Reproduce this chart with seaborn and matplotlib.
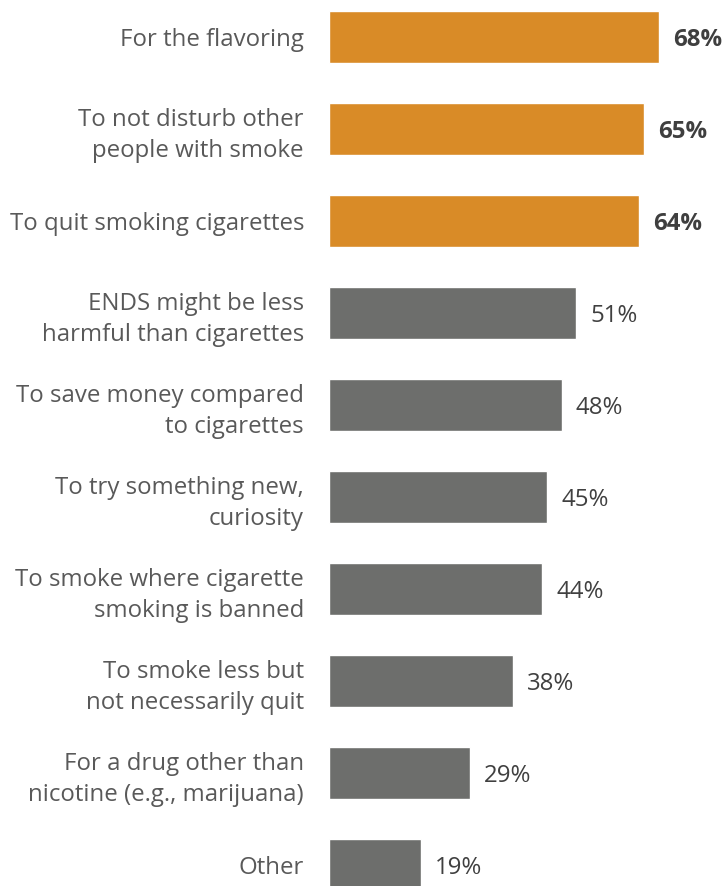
import matplotlib
matplotlib.use("Agg")
import matplotlib.pyplot as plt
import seaborn as sns
import pandas as pd

categories = [
    "For the flavoring",
    "To not disturb other\npeople with smoke",
    "To quit smoking cigarettes",
    "ENDS might be less\nharmful than cigarettes",
    "To save money compared\nto cigarettes",
    "To try something new,\ncuriosity",
    "To smoke where cigarette\nsmoking is banned",
    "To smoke less but\nnot necessarily quit",
    "For a drug other than\nnicotine (e.g., marijuana)",
    "Other",
]
values = [68, 65, 64, 51, 48, 45, 44, 38, 29, 19]
highlight = [True, True, True, False, False, False, False, False, False, False]

ORANGE = "#D98B27"
GRAY = "#6D6E6C"

df = pd.DataFrame({"reason": categories, "pct": values,
                   "group": ["top" if h else "rest" for h in highlight]})

sns.set_style("white")
plt.rcParams["font.family"] = ["Open Sans", "DejaVu Sans"]

fig = plt.figure(figsize=(7.27, 8.86), dpi=100)
ax = fig.add_axes([329 / 727, 0, 1 - 329 / 727, 1])

sns.barplot(data=df, x="pct", y="reason", hue="group",
            palette={"top": ORANGE, "rest": GRAY}, dodge=False,
            width=0.56, legend=False, ax=ax, saturation=1)

ax.set_xlim(0, (727 - 329) / 4.85)
ax.set_ylim(9 + (886 - 864.8) / 92, -36.8 / 92)

for i, (v, h) in enumerate(zip(values, highlight)):
    ax.annotate(f"{v}%", xy=(v, i), xytext=(14, -3), textcoords="offset pixels",
                ha="left", va="center", fontsize=17.3,
                fontweight="bold" if h else "normal",
                color="#3F3F3F" if h else "#404040")

ax.set_yticks(range(len(categories)))
ax.set_yticklabels(categories, fontsize=17.3, color="#595959", linespacing=1.42)
ax.tick_params(axis="y", length=0, pad=18)
ax.set_xticks([])
ax.set_xlabel("")
ax.set_ylabel("")
for s in ax.spines.values():
    s.set_visible(False)

fig.savefig("out.png", dpi=100)
